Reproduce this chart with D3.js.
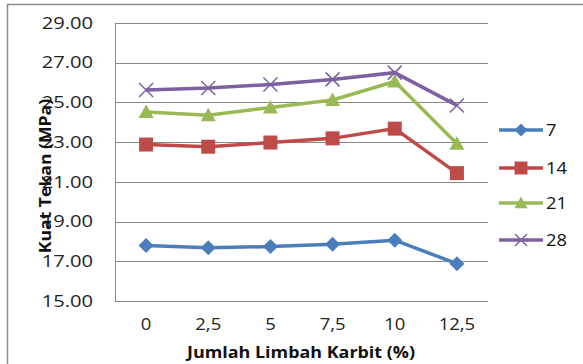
<!DOCTYPE html>
<html><head><meta charset="utf-8">
<script src="https://cdn.jsdelivr.net/npm/d3@7"></script>
<style>body{margin:0;background:#fff}svg{display:block}text{font-family:"Open Sans","Noto Sans",sans-serif}</style>
</head><body>
<script>
const categories = ["0","2,5","5","7,5","10","12,5"];
const seriesNames = ["7","14","21","28"];
const s7  = [17.80, 17.68, 17.74, 17.86, 18.06, 16.88];
const s14 = [22.88, 22.77, 22.98, 23.19, 23.68, 21.44];
const s21 = [24.52, 24.36, 24.74, 25.12, 26.05, 22.92];
const s28 = [25.63, 25.73, 25.90, 26.16, 26.50, 24.85];
const yTicks = [15,17,19,21,23,25,27,29];
const colors = ["#4a7ebb","#be4b48","#98b954","#7d60a0"];
const markers = ["diamond","square","triangle","x"];
const allSeries = [s7,s14,s21,s28];

const W=583,H=364;
const svg=d3.select("body").append("svg").attr("width",W).attr("height",H);
svg.append("rect").attr("x",7.5).attr("y",4.5).attr("width",W+10).attr("height",H+10)
  .attr("fill","none").attr("stroke","#8c8c8c").attr("stroke-width",1.5);

const m={l:115,t:23,r:488,b:301};
const x=d3.scaleBand().domain(categories).range([m.l,m.r]);
const y=d3.scaleLinear().domain([15,29]).range([m.b,m.t]);

svg.append("g").selectAll("line").data(yTicks).join("line")
  .attr("x1",m.l).attr("x2",m.r).attr("y1",d=>Math.round(y(d))+0.5).attr("y2",d=>Math.round(y(d))+0.5)
  .attr("stroke","#878787").attr("stroke-width",1);
svg.append("line").attr("x1",m.l+0.5).attr("x2",m.l+0.5).attr("y1",m.t).attr("y2",m.b)
  .attr("stroke","#878787");

const ya=d3.axisLeft(y).tickValues(yTicks).tickFormat(d3.format(".2f")).tickSize(0).tickPadding(22);
const gy=svg.append("g").attr("transform",`translate(${m.l},0)`).call(ya);
gy.select(".domain").remove();
gy.selectAll("text").attr("font-size",16.5).attr("fill","#222").attr("font-family","'Open Sans',sans-serif")
  .attr("x",0).attr("transform","translate(-22,0) scale(1.22,1)");

const xa=d3.axisBottom(x).tickSize(0).tickPadding(17);
const gx=svg.append("g").attr("transform",`translate(0,${m.b})`).call(xa);
gx.select(".domain").remove();
gx.selectAll("text").attr("font-size",16.5).attr("fill","#222").attr("font-family","'Open Sans',sans-serif")
  .attr("transform","scale(1.12,1)");

svg.append("text").attr("transform","translate(301,358) scale(1.12,1)").attr("text-anchor","middle")
  .attr("font-size",16).attr("font-weight","bold").attr("fill","#111").text("Jumlah Limbah Karbit (%)");
svg.append("text").attr("transform","translate(51,176) rotate(-90) scale(1.1,1)").attr("text-anchor","middle")
  .attr("font-size",16).attr("font-weight","bold").attr("fill","#111").text("Kuat Tekan (MPa)");

function drawMarker(g,type,color,cx,cy,s){
  if(type==="diamond"){
    g.append("path").attr("d",`M${cx},${cy-s}L${cx+s},${cy}L${cx},${cy+s}L${cx-s},${cy}Z`).attr("fill",color);
  } else if(type==="square"){
    g.append("rect").attr("x",cx-s).attr("y",cy-s).attr("width",2*s).attr("height",2*s).attr("fill",color);
  } else if(type==="triangle"){
    g.append("path").attr("d",`M${cx},${cy-s}L${cx+s},${cy+s*0.8}L${cx-s},${cy+s*0.8}Z`).attr("fill",color);
  } else {
    g.append("path").attr("d",`M${cx-s},${cy-s}L${cx+s},${cy+s}M${cx-s},${cy+s}L${cx+s},${cy-s}`)
      .attr("stroke",color).attr("stroke-width",1.5);
  }
}
const msize=[7.5,7,7.5,7];
const line=d3.line().x((d,i)=>x(categories[i])+x.bandwidth()/2).y(d=>y(d));
allSeries.forEach((vals,k)=>{
  const g=svg.append("g");
  g.append("path").attr("d",line(vals)).attr("fill","none").attr("stroke",colors[k]).attr("stroke-width",3.5);
  vals.forEach((v,i)=>drawMarker(g,markers[k],colors[k],x(categories[i])+x.bandwidth()/2,y(v),msize[k]));
});

const legY=[130,168,203,240];
seriesNames.forEach((n,k)=>{
  const g=svg.append("g");
  g.append("line").attr("x1",499).attr("x2",543).attr("y1",legY[k]).attr("y2",legY[k])
    .attr("stroke",colors[k]).attr("stroke-width",3.5);
  drawMarker(g,markers[k],colors[k],521,legY[k],k===3?6:6.5);
  g.append("text").attr("transform",`translate(546,${legY[k]+6}) scale(1.08,1)`).attr("font-size",17).attr("fill","#111").text(n);
});
</script>
</body></html>
